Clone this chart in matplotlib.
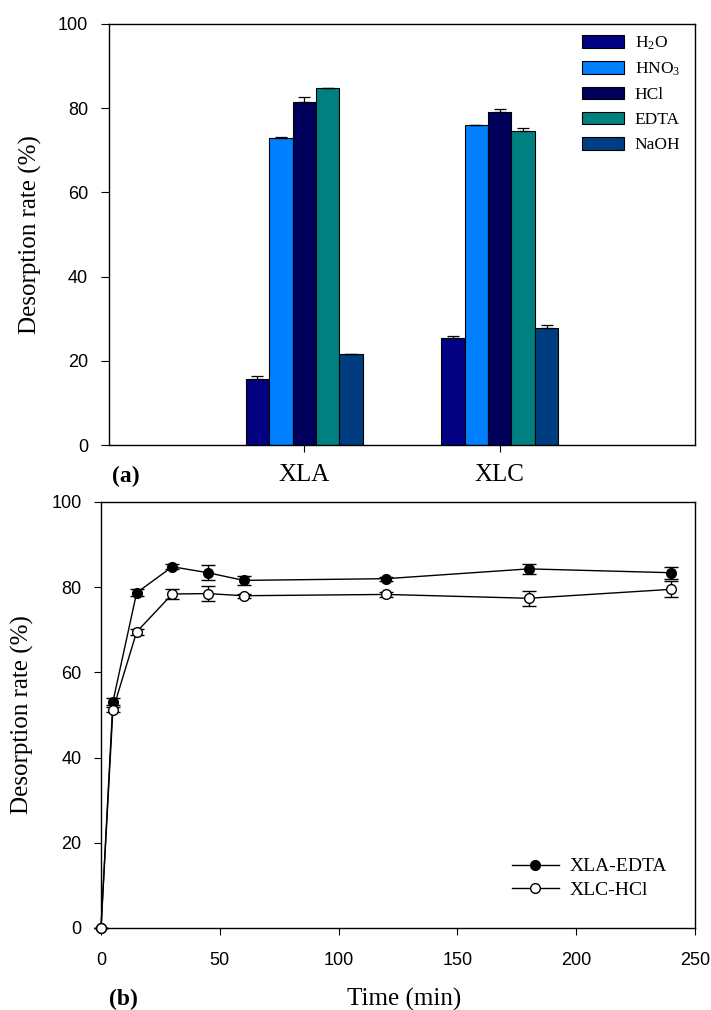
import numpy as np
import matplotlib
matplotlib.use("Agg")
import matplotlib.pyplot as plt
from matplotlib.lines import Line2D

plt.rcParams['font.family'] = ['Liberation Sans', 'DejaVu Sans']
plt.rcParams['mathtext.fontset'] = 'custom'
plt.rcParams['mathtext.rm'] = 'Liberation Serif'
plt.rcParams['mathtext.it'] = 'Liberation Serif:italic'
SERIF = ['Liberation Serif', 'DejaVu Serif']

# (a) desorption by eluent
groups = ["XLA", "XLC"]
eluents = ["H$_2$O", "HNO$_3$", "HCl", "EDTA", "NaOH"]
bar_colors = ["#000080", "#0080ff", "#00005c", "#008080", "#003c80"]
xla_vals = [15.6, 72.9, 81.4, 84.7, 21.5]
xla_err = [0.7, 0.3, 1.2, 0.2, 0.2]
xlc_vals = [25.3, 75.9, 79.0, 74.7, 27.9]
xlc_err = [0.5, 0.2, 0.9, 0.5, 0.6]

# (b) desorption vs time
time_min = [0, 5, 15, 30, 45, 60, 120, 180, 240]
xla_edta = [0, 53.1, 78.7, 84.8, 83.4, 81.6, 82.0, 84.3, 83.4]
xla_edta_err = [0, 0.8, 0.8, 0.6, 1.8, 1.1, 0.5, 1.2, 1.4]
xlc_hcl = [0, 51.2, 69.5, 78.4, 78.5, 78.0, 78.3, 77.4, 79.5]
xlc_hcl_err = [0, 0.6, 0.7, 1.1, 1.8, 0.5, 0.5, 1.8, 1.9]

fig = plt.figure(figsize=(7.11, 10.10), dpi=100)
W, H = 711, 1010

def ax_rect(l, t, r, b):
    return [l / W, 1 - b / H, (r - l) / W, (b - t) / H]

# ---------- panel (a)
ax1 = fig.add_axes(ax_rect(109, 24, 695, 445))
width = 0.12
pos = np.arange(1, len(groups) + 1)
all_vals = np.array([xla_vals, xlc_vals])
all_err = np.array([xla_err, xlc_err])
for i, name in enumerate(eluents):
    x = pos + (i - 2) * width
    ax1.bar(x, all_vals[:, i], width, color=bar_colors[i], edgecolor='black',
            linewidth=0.8, label=name, zorder=2)
    ax1.errorbar(x, all_vals[:, i], yerr=[np.zeros(2), all_err[:, i]], fmt='none',
                 ecolor='black', elinewidth=0.9, capsize=4, capthick=0.9, zorder=3)
ax1.set_xlim(0, 3)
ax1.set_ylim(0, 100)
ax1.set_xticks(pos)
ax1.set_xticklabels(groups, fontfamily=SERIF, fontsize=18)
ax1.set_yticks(np.arange(0, 101, 20))
ax1.tick_params(axis='y', labelsize=13, length=6, pad=9)
ax1.tick_params(axis='x', length=5, pad=9)
ax1.set_ylabel("Desorption rate (%)", fontfamily=SERIF, fontsize=18)
ax1.yaxis.set_label_coords(-0.114, 0.5)
ax1.legend(loc='upper left', bbox_to_anchor=(0.807, 0.975), frameon=False,
           borderpad=0, borderaxespad=0, handlelength=2.45, handleheight=0.75,
           handletextpad=0.6, labelspacing=0.5, prop={'family': SERIF, 'size': 12.5})
fig.text(112 / W, 1 - 476 / H, "(a)", fontfamily=SERIF, fontsize=17,
         fontweight='bold', ha='left', va='center')

# ---------- panel (b)
ax2 = fig.add_axes(ax_rect(101, 502, 695, 928))
ax2.errorbar(time_min, xla_edta, yerr=xla_edta_err, fmt='-o', color='black',
             mfc='black', mec='black', ms=7, lw=1, elinewidth=1, capsize=5,
             capthick=1, zorder=3, clip_on=False)
ax2.errorbar(time_min, xlc_hcl, yerr=xlc_hcl_err, fmt='-o', color='black',
             mfc='white', mec='black', ms=7, lw=1, elinewidth=1, capsize=5,
             capthick=1, zorder=4, clip_on=False)
ax2.set_xlim(0, 250)
ax2.set_ylim(0, 100)
ax2.set_xticks(np.arange(0, 251, 50))
ax2.set_yticks(np.arange(0, 101, 20))
ax2.tick_params(axis='y', labelsize=13, length=5, pad=9)
ax2.tick_params(axis='x', labelsize=13, length=5, pad=12)
for a in (ax1, ax2):
    for s in a.spines.values():
        s.set_linewidth(1)
ax2.set_ylabel("Desorption rate (%)", fontfamily=SERIF, fontsize=18)
ax2.yaxis.set_label_coords(-0.113, 0.5)
ax2.set_xlabel("Time (min)", fontfamily=SERIF, fontsize=18)
ax2.xaxis.set_label_coords(0.51, -0.14)
handles = [Line2D([], [], color='black', lw=1, marker='o', ms=7, mfc='black', mec='black'),
           Line2D([], [], color='black', lw=1, marker='o', ms=7, mfc='white', mec='black')]
ax2.legend(handles, ["XLA-EDTA", "XLC-HCl"], loc='upper left',
           bbox_to_anchor=(0.692, 0.165), frameon=False,
           borderpad=0, borderaxespad=0, handlelength=2.4, handletextpad=0.55,
           labelspacing=0.3, prop={'family': SERIF, 'size': 14})
fig.text(109 / W, 1 - 999 / H, "(b)", fontfamily=SERIF, fontsize=17,
         fontweight='bold', ha='left', va='center')

fig.savefig("out.png", dpi=100)
